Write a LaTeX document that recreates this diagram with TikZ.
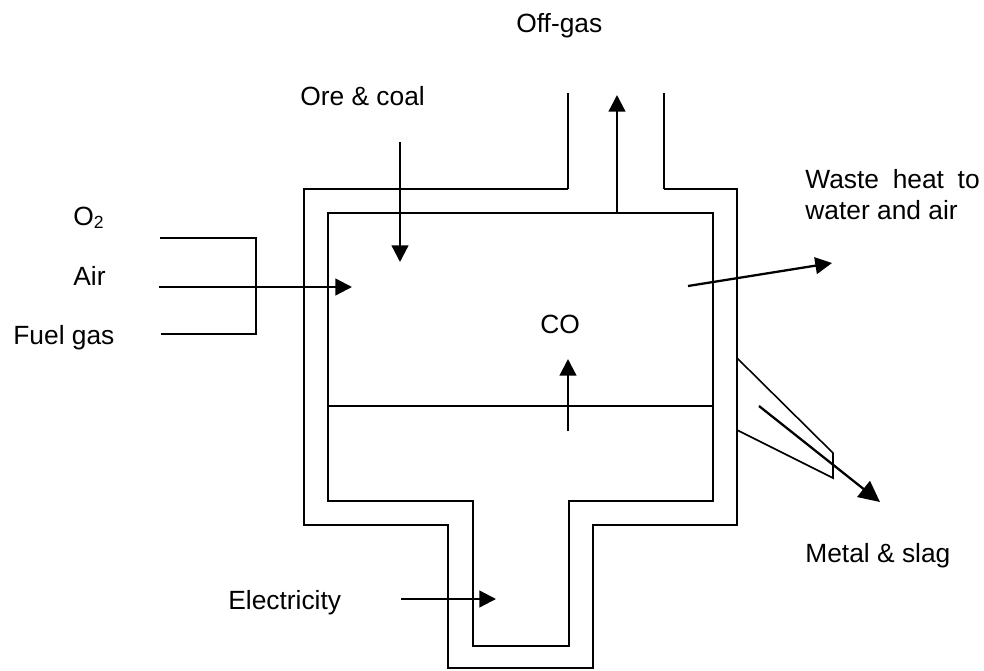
\documentclass[tikz,border=0pt]{standalone}
\usepackage{fontspec}
\setmainfont{Liberation Sans}
\usetikzlibrary{arrows.meta}
\tikzstyle{arrow} = [
    line width=1.3pt,
    -{Triangle[length=9.5pt,width=9.5pt]},
    draw=black
]
\tikzstyle{wall} = [line width=0.9pt, draw=black]
\tikzstyle{label} = [inner sep=0pt, font=\fontsize{15}{19}\selectfont]
\begin{document}
\begin{tikzpicture}[x=0.02cm,y=-0.02cm]
\useasboundingbox (0,0) rectangle (984,670);
% Outer shell
\draw[wall] (568,189) -- (304,189) -- (304,525) -- (448,525) -- (448,668) -- (593,668) -- (593,525) -- (737,525) -- (737,189) -- (664,189);
% Inner shell
\draw[wall] (328,213) -- (713,213) -- (713,501) -- (569,501) -- (569,646) -- (473,646) -- (473,501) -- (328,501) -- cycle;
% Bath level
\draw[wall] (328,406) -- (713,406);
% Off-gas duct
\draw[wall] (568,93) -- (568,189);
\draw[wall] (664,93) -- (664,189);
% Inlet manifold
\draw[wall] (160,238) -- (256,238) -- (256,334) -- (161,334);
% Tap spout
\draw[wall] (737,358) -- (833,453) -- (833,478) -- (737,430);
% Flows
\coordinate (ogin) at (617,213);
\coordinate (ogout) at (617,95);
\draw[arrow] (ogin) -- (ogout);
\coordinate (orein) at (400,142);
\coordinate (oreout) at (400,262);
\draw[arrow] (orein) -- (oreout);
\coordinate (airin) at (159,287);
\coordinate (airout) at (352,287);
\draw[arrow] (airin) -- (airout);
\coordinate (wastein) at (688,286);
\coordinate (wasteout) at (832,263);
\draw[arrow] (wastein) -- (wasteout);
\coordinate (coin) at (568,431);
\coordinate (coout) at (568,359);
\draw[arrow] (coin) -- (coout);
\coordinate (metalin) at (759,406);
\coordinate (metalout) at (880,502);
\draw[arrow, -{Triangle[length=12pt,width=11.5pt]}] (metalin) -- (metalout);
\coordinate (elecin) at (401,599);
\coordinate (elecout) at (496,599);
\draw[arrow] (elecin) -- (elecout);
% Labels
\node[label, anchor=base west] (offgas) at (516,32) {Off-gas};
\node[label, anchor=base west] (orecoal) at (300,105) {Ore \& coal};
\node[label, anchor=base west] (oxygen) at (73,225) {O\raisebox{-2.2pt}{\fontsize{10}{10}\selectfont 2}};
\node[label, anchor=base west] (air) at (73,285) {Air};
\node[label, anchor=base west] (fuelgas) at (13,344) {Fuel gas};
\node[label, anchor=base west] (co) at (540,333) {CO};
\node[label, anchor=base west] (waste1) at (805,188) {Waste\hspace{0.52em}heat\hspace{0.52em}to};
\node[label, anchor=base west] (waste2) at (805,219) {water and air};
\node[label, anchor=base west] (metal) at (805,562) {Metal \& slag};
\node[label, anchor=base west] (elec) at (228,609) {Electricity};
\end{tikzpicture}
\end{document}
